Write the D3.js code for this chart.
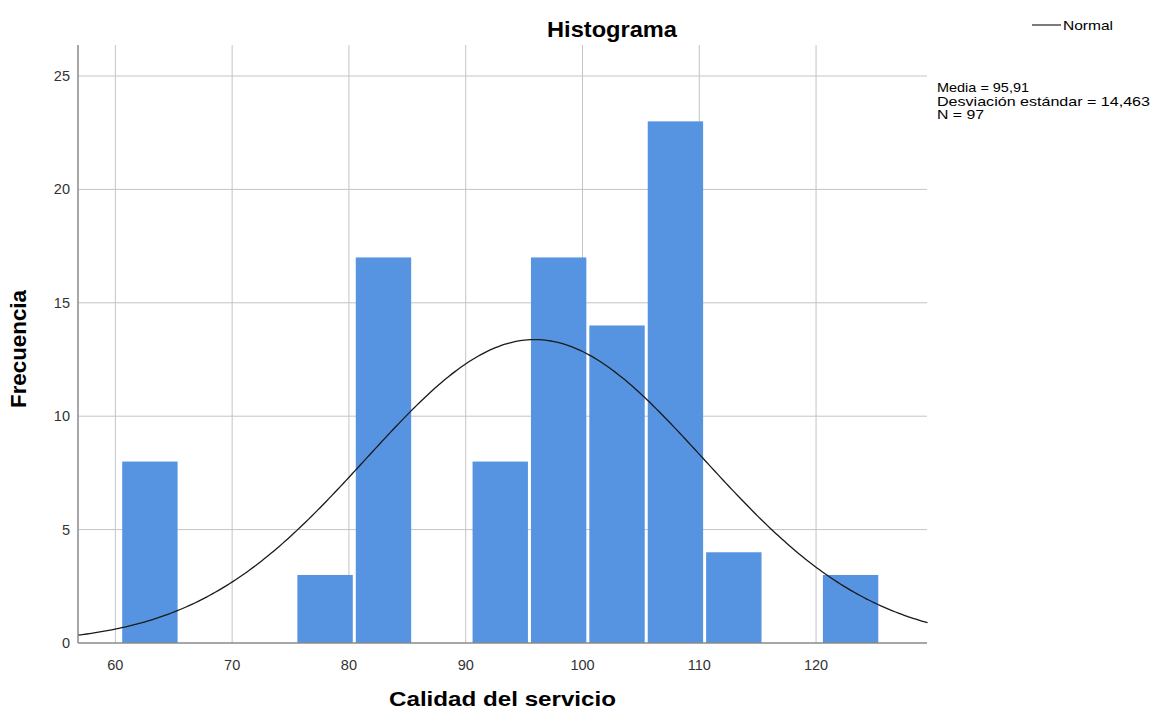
<!DOCTYPE html>
<html>
<head>
<meta charset="UTF-8">
<title>Histograma</title>
<script src="https://cdn.jsdelivr.net/npm/d3@7"></script>
<style>
  body { margin: 0; background: #fff; }
  text { font-family: "Liberation Sans", Arial, sans-serif; }
</style>
</head>
<body>
<script>
// bins (lower edge) and frequencies
var binStarts = [60.5, 75.5, 80.5, 90.5, 95.5, 100.5, 105.5, 110.5, 120.5];
var binWidth = 5;
var counts = [8, 3, 17, 8, 17, 14, 23, 4, 3];
var xTicks = [60, 70, 80, 90, 100, 110, 120];
var yTicks = [0, 5, 10, 15, 20, 25];
var media = 95.91, sd = 14.463, n = 97;
var statLines = ["Media = 95,91", "Desviación estándar = 14,463", "N = 97"];

var w = 1153, h = 713;
var pLeft = 78, pRight = 927, pTop = 45, pBottom = 643;

var svg = d3.select("body").append("svg")
  .attr("width", w).attr("height", h);

var x = d3.scaleLinear().domain([56.8, 129.5]).range([pLeft, pRight]);
var y = d3.scaleLinear().domain([0, 25]).range([pBottom, 76]);

// grid
svg.selectAll("line.gx").data(xTicks).enter().append("line").attr("class", "gx")
  .attr("x1", function(d){ return x(d); }).attr("x2", function(d){ return x(d); })
  .attr("y1", pTop).attr("y2", pBottom)
  .attr("stroke", "#c4c4c4").attr("stroke-width", 1);
svg.selectAll("line.gy").data(yTicks.slice(1)).enter().append("line").attr("class", "gy")
  .attr("x1", pLeft).attr("x2", pRight)
  .attr("y1", function(d){ return y(d); }).attr("y2", function(d){ return y(d); })
  .attr("stroke", "#c4c4c4").attr("stroke-width", 1);

// bars
svg.selectAll("rect").data(binStarts).enter().append("rect")
  .attr("x", function(d){ return x(d) + 1; })
  .attr("width", function(d){ return x(d + binWidth) - x(d) - 3; })
  .attr("y", function(d, i){ return y(counts[i]); })
  .attr("height", function(d, i){ return y(0) - y(counts[i]); })
  .attr("fill", "#5694e2");

// normal curve
var pts = d3.range(56.8, 129.6, 0.25).map(function(v){
  var z = (v - media) / sd;
  return [v, n * binWidth * Math.exp(-0.5 * z * z) / (sd * Math.sqrt(2 * Math.PI))];
});
svg.append("path").datum(pts)
  .attr("d", d3.line().x(function(d){ return x(d[0]); }).y(function(d){ return y(d[1]); }))
  .attr("fill", "none").attr("stroke", "#1a1a1a").attr("stroke-width", 1.3);

// axis lines
svg.append("line").attr("x1", pLeft).attr("x2", pLeft).attr("y1", pTop).attr("y2", pBottom)
  .attr("stroke", "#8a8a8a").attr("stroke-width", 1.5);
svg.append("line").attr("x1", pLeft).attr("x2", pRight).attr("y1", pBottom).attr("y2", pBottom)
  .attr("stroke", "#8a8a8a").attr("stroke-width", 1.5);

// tick labels
svg.selectAll("text.xt").data(xTicks).enter().append("text").attr("class", "xt")
  .attr("x", function(d){ return x(d); }).attr("y", 670)
  .attr("text-anchor", "middle").attr("font-size", "14.5px").attr("fill", "#333")
  .text(function(d){ return d; });
svg.selectAll("text.yt").data(yTicks).enter().append("text").attr("class", "yt")
  .attr("x", 70).attr("y", function(d){ return y(d) + 5; })
  .attr("text-anchor", "end").attr("font-size", "14.5px").attr("fill", "#333")
  .text(function(d){ return d; });

// titles
svg.append("text").attr("x", 547).attr("y", 37)
  .attr("font-size", "22px").attr("font-weight", "bold")
  .attr("textLength", 130).attr("lengthAdjust", "spacingAndGlyphs").text("Histograma");
svg.append("text").attr("x", 389).attr("y", 706)
  .attr("font-size", "20px").attr("font-weight", "bold")
  .attr("textLength", 227).attr("lengthAdjust", "spacingAndGlyphs").text("Calidad del servicio");
svg.append("text").attr("transform", "translate(26,408) rotate(-90)")
  .attr("font-size", "22px").attr("font-weight", "bold")
  .attr("textLength", 118).attr("lengthAdjust", "spacingAndGlyphs").text("Frecuencia");

// legend
svg.append("line").attr("x1", 1032).attr("x2", 1061).attr("y1", 25).attr("y2", 25)
  .attr("stroke", "#333").attr("stroke-width", 1.3);
svg.append("text").attr("x", 1063).attr("y", 30).attr("font-size", "13.5px")
  .attr("textLength", 50).attr("lengthAdjust", "spacingAndGlyphs").text("Normal");

var statW = [92, 213, 47];
svg.selectAll("text.st").data(statLines).enter().append("text").attr("class", "st")
  .attr("x", 937).attr("y", function(d, i){ return 92 + i * 13.5; })
  .attr("font-size", "13.5px")
  .attr("textLength", function(d, i){ return statW[i]; }).attr("lengthAdjust", "spacingAndGlyphs")
  .text(function(d){ return d; });
</script>
</body>
</html>
